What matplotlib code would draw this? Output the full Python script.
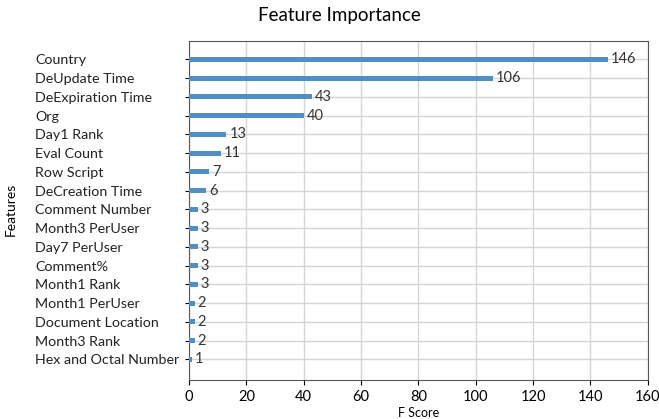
import matplotlib.pyplot as plt

plt.rcParams['font.family'] = ['Lato', 'DejaVu Sans']

features = [
    'Country',
    'DeUpdate Time',
    'DeExpiration Time',
    'Org',
    'Day1 Rank',
    'Eval Count',
    'Row Script',
    'DeCreation Time',
    'Comment Number',
    'Month3 PerUser',
    'Day7 PerUser',
    'Comment%',
    'Month1 Rank',
    'Month1 PerUser',
    'Document Location',
    'Month3 Rank',
    'Hex and Octal Number',
]

scores = [146, 106, 43, 40, 13, 11, 7, 6, 3, 3, 3, 3, 3, 2, 2, 2, 1]

# plot from bottom to top
feats = features[::-1]
vals = scores[::-1]
ys = list(range(len(feats)))

fig = plt.figure(figsize=(6.59, 4.19), dpi=100)
ax = fig.add_axes([0.287, 0.093, 0.696, 0.809])

ax.barh(ys, vals, height=0.27, color='#4f8fc4', zorder=3)
for y, v in zip(ys, vals):
    ax.text(v + 1, y, str(v), va='center', fontsize=10.5, color='#333333', zorder=4)

ax.set_yticks(ys)
ax.set_yticklabels(feats, fontsize=10.3, ha='left', color='#222222')
ax.tick_params(axis='y', pad=108, length=3)
ax.set_xlim(0, 160)
ax.set_xticks(range(0, 161, 20))
ax.tick_params(axis='x', labelsize=10.5)
ax.set_ylim(-1.1, len(feats) - 0.02)
ax.grid(True, color='#d4d4d4', linewidth=1, zorder=0)
ax.set_axisbelow(True)

for s in ax.spines.values():
    s.set_color('#555555')

fig.text(0.515, 0.962, 'Feature Importance', fontsize=13.5, ha='center', va='center')
ax.set_xlabel('F Score', fontsize=9, labelpad=2)
fig.text(0.016, 0.5, 'Features', fontsize=10, rotation=90, ha='center', va='center')

fig.savefig('out.png', dpi=100)
